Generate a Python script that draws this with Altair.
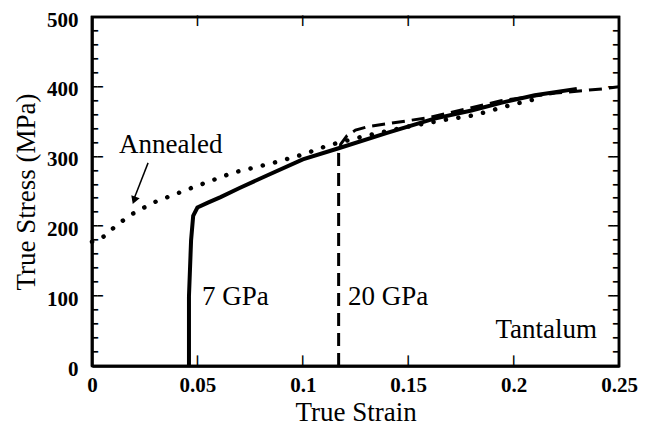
import altair as alt
import pandas as pd

# ---- data ----
annealed_x = [0.0, 0.006, 0.011, 0.018, 0.029, 0.048, 0.067, 0.086, 0.100, 0.112, 0.130, 0.150, 0.168, 0.181, 0.200, 0.210]
annealed_y = [178, 186, 200, 216, 234, 256, 277, 291, 303, 316, 330, 343, 353, 359, 375, 382]

gpa7_x = [0.046, 0.046, 0.047, 0.048, 0.050, 0.055, 0.061, 0.070, 0.083, 0.100, 0.117, 0.140, 0.162, 0.180, 0.194, 0.210, 0.230]
gpa7_y = [0, 100, 180, 215, 227, 234, 242, 255, 273, 296, 312, 334, 354, 366, 377, 388, 397]

gpa20_x = [0.117, 0.117, 0.118, 0.121, 0.125, 0.131, 0.140, 0.160, 0.194, 0.220, 0.242, 0.250]
gpa20_y = [0, 305, 318, 330, 338, 343, 347, 356, 380, 391, 397, 400]

arrow_x = [0.0266, 0.0200]
arrow_y = [291, 240]
arrow_head_x = [0.0202]
arrow_head_y = [239]

labels_text = ["Annealed", "7 GPa", "20 GPa"]
labels_x = [0.0128, 0.0522, 0.1214]
labels_y = [305, 87, 87]

tantalum_text = ["Tantalum"]
tantalum_x = [0.2396]
tantalum_y = [40]

x_ticks = [0, 0.05, 0.1, 0.15, 0.2, 0.25]
x_inner_ticks = [0.05, 0.1, 0.15, 0.2]
y_ticks = [0, 100, 200, 300, 400, 500]
y_minor = [v for v in range(20, 500, 20) if v % 100 != 0]
y_major_inner = [100, 200, 300, 400]

X_MIN, X_MAX = x_ticks[0], x_ticks[-1]
Y_MIN, Y_MAX = y_ticks[0], y_ticks[-1]

W, H = 527, 349
FONT = "Liberation Serif"

xs = alt.Scale(domain=[X_MIN, X_MAX], nice=False, zero=False)
ys = alt.Scale(domain=[Y_MIN, Y_MAX], nice=False)

x_axis = alt.Axis(values=x_ticks, format="~g", ticks=False, domain=True, domainColor="black",
                  domainWidth=2.5, grid=False,
                  labelFont=FONT, labelFontWeight="bold", labelFontSize=21, labelPadding=8,
                  labelColor="black", title="True Strain", titleFont=FONT, titleFontSize=27,
                  titleFontWeight="normal", titleColor="black", titlePadding=4, labelFlush=False)
y_axis = alt.Axis(values=y_ticks, ticks=False, domain=True, domainColor="black",
                  domainWidth=2.5, grid=False,
                  labelFont=FONT, labelFontWeight="bold", labelFontSize=21, labelPadding=14,
                  labelColor="black", labelOffset=3, title="True Stress (MPa)", titleFont=FONT,
                  titleFontSize=27, titleFontWeight="normal", titleColor="black", titlePadding=6)


def X(**kw):
    return alt.X("x:Q", scale=xs, **kw)


def Y(**kw):
    return alt.Y("y:Q", scale=ys, **kw)


# frame: closed path through the axis extremes
frame_df = pd.DataFrame({"x": [X_MIN, X_MIN, X_MAX, X_MAX, X_MIN],
                         "y": [Y_MIN, Y_MAX, Y_MAX, Y_MIN, Y_MIN], "o": range(5)})
frame = alt.Chart(frame_df).mark_line(color="black", strokeWidth=2.5).encode(
    x=X(axis=x_axis), y=Y(axis=y_axis), order="o:Q")


# inward ticks drawn with heavy box-drawing glyphs
def hticks(vals, at, align, glyph, fs):
    df = pd.DataFrame({"y": vals, "x": [at] * len(vals), "t": [glyph] * len(vals)})
    return alt.Chart(df).mark_text(font="DejaVu Sans Mono", fontSize=fs, align=align,
                                   baseline="middle", color="black").encode(x=X(), y=Y(), text="t:N")


def vticks(vals, at, baseline, glyph, fs):
    df = pd.DataFrame({"x": vals, "y": [at] * len(vals), "t": [glyph] * len(vals)})
    return alt.Chart(df).mark_text(font="DejaVu Sans Mono", fontSize=fs, align="center",
                                   baseline=baseline, color="black").encode(
        x=X(), y=Y(), text="t:N")


ticks = [
    hticks(y_major_inner, X_MIN, "left", "\u2501\u2501", 9),
    hticks(y_minor, X_MIN, "left", "\u2501", 10),
    hticks(y_major_inner, X_MAX, "right", "\u2501\u2501", 9),
    hticks(y_minor, X_MAX, "right", "\u2501", 10),
    vticks(x_inner_ticks, Y_MIN, "bottom", "\u2503", 9),
    vticks(x_inner_ticks, Y_MAX, "top", "\u2503", 9),
]

ann_df = pd.DataFrame({"x": annealed_x, "y": annealed_y, "o": range(len(annealed_x))})
g7_df = pd.DataFrame({"x": gpa7_x, "y": gpa7_y, "o": range(len(gpa7_x))})
g20_df = pd.DataFrame({"x": gpa20_x, "y": gpa20_y, "o": range(len(gpa20_x))})

annealed = alt.Chart(ann_df).mark_line(color="black", strokeWidth=4.5, strokeDash=[0.1, 12.5],
                                       strokeCap="round").encode(x=X(), y=Y(), order="o:Q")
g7 = alt.Chart(g7_df).mark_line(color="black", strokeWidth=4).encode(x=X(), y=Y(), order="o:Q")
g20 = alt.Chart(g20_df).mark_line(color="black", strokeWidth=3, strokeDash=[13, 7]).encode(
    x=X(), y=Y(), order="o:Q")

arrow_df = pd.DataFrame({"x": arrow_x, "y": arrow_y, "o": [0, 1]})
arrow = alt.Chart(arrow_df).mark_line(color="black", strokeWidth=1.5).encode(x=X(), y=Y(), order="o:Q")
head = alt.Chart(pd.DataFrame({"x": arrow_head_x, "y": arrow_head_y})).mark_point(
    shape="triangle", filled=True, color="black", size=80, angle=200.6, opacity=1).encode(x=X(), y=Y())

lab_df = pd.DataFrame({"t": labels_text, "x": labels_x, "y": labels_y})
labels = alt.Chart(lab_df).mark_text(font=FONT, fontSize=27, align="left", baseline="alphabetic",
                                     color="black").encode(x=X(), y=Y(), text="t:N")
tan_df = pd.DataFrame({"t": tantalum_text, "x": tantalum_x, "y": tantalum_y})
tantalum = alt.Chart(tan_df).mark_text(font=FONT, fontSize=27, align="right", baseline="alphabetic",
                                       color="black").encode(x=X(), y=Y(), text="t:N")

chart = alt.layer(frame, *ticks, annealed, g7, g20, arrow, head, labels, tantalum).properties(
    width=W, height=H,
    autosize=alt.AutoSizeParams(type="none"),
    padding={"left": 84, "top": 9, "right": 20, "bottom": 66},
    background="white",
).configure_view(stroke="black", strokeWidth=2.5)

chart.save("out.html", embed_options={"renderer": "svg", "actions": False})
